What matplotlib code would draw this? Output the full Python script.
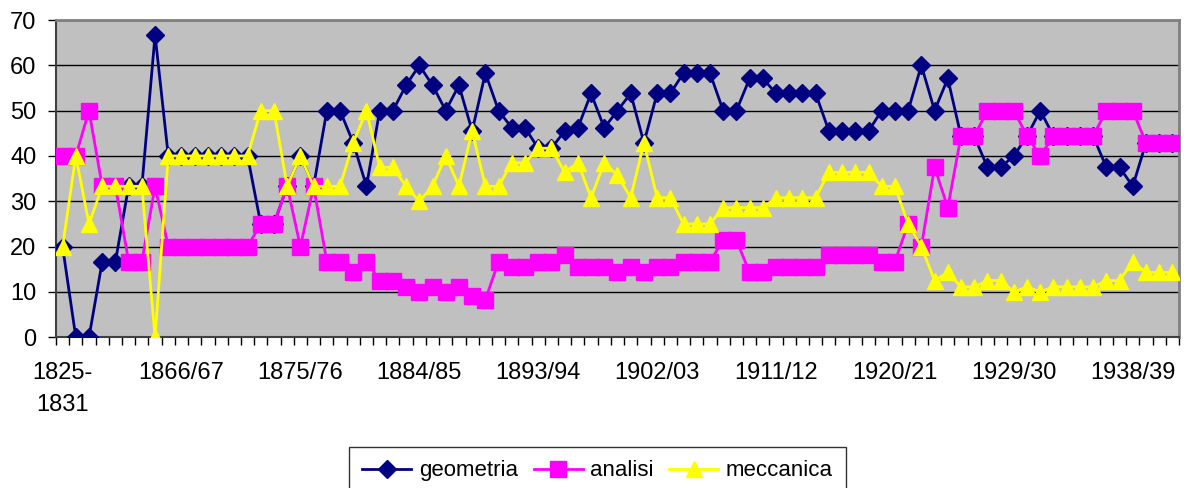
import numpy as np
import matplotlib.pyplot as plt
from matplotlib.ticker import FixedLocator, MultipleLocator

plt.rcParams['font.family'] = ['Liberation Sans', 'DejaVu Sans']

# academic years: first one is a grouped period, the rest are yearly
years = ["1825-1831"] + [f"{1857 + k}/{(58 + k) % 100:02d}" for k in range(1, 85)]

geometria = [20, 0, 0, 16.7, 16.7, 33.3, 33.3, 66.7, 40, 40,
             40, 40, 40, 40, 40, 25, 25, 33.3, 40, 33.3,
             50, 50, 42.9, 33.3, 50, 50, 55.6, 60, 55.6, 50,
             55.6, 45.5, 58.3, 50, 46.2, 46.2, 41.7, 41.7, 45.5, 46.2,
             53.8, 46.2, 50, 53.8, 42.9, 53.8, 53.8, 58.3, 58.3, 58.3,
             50, 50, 57.1, 57.1, 53.8, 53.8, 53.8, 53.8, 45.5, 45.5,
             45.5, 45.5, 50, 50, 50, 60, 50, 57.1, 44.4, 44.4,
             37.5, 37.5, 40, 44.4, 50, 44.4, 44.4, 44.4, 44.4, 37.5,
             37.5, 33.3, 42.9, 42.9, 42.9]
analisi = [40, 40, 50, 33.3, 33.3, 16.7, 16.7, 33.3, 20, 20,
           20, 20, 20, 20, 20, 25, 25, 33.3, 20, 33.3,
           16.7, 16.7, 14.3, 16.7, 12.5, 12.5, 11.1, 10, 11.1, 10,
           11.1, 9.1, 8.3, 16.7, 15.4, 15.4, 16.7, 16.7, 18.2, 15.4,
           15.4, 15.4, 14.3, 15.4, 14.3, 15.4, 15.4, 16.7, 16.7, 16.7,
           21.4, 21.4, 14.3, 14.3, 15.4, 15.4, 15.4, 15.4, 18.2, 18.2,
           18.2, 18.2, 16.7, 16.7, 25, 20, 37.5, 28.6, 44.4, 44.4,
           50, 50, 50, 44.4, 40, 44.4, 44.4, 44.4, 44.4, 50,
           50, 50, 42.9, 42.9, 42.9]
meccanica = [20, 40, 25, 33.3, 33.3, 33.3, 33.3, 0, 40, 40,
             40, 40, 40, 40, 40, 50, 50, 33.3, 40, 33.3,
             33.3, 33.3, 42.9, 50, 37.5, 37.5, 33.3, 30, 33.3, 40,
             33.3, 45.5, 33.3, 33.3, 38.5, 38.5, 41.7, 41.7, 36.4, 38.5,
             30.8, 38.5, 35.7, 30.8, 42.9, 30.8, 30.8, 25, 25, 25,
             28.6, 28.6, 28.6, 28.6, 30.8, 30.8, 30.8, 30.8, 36.4, 36.4,
             36.4, 36.4, 33.3, 33.3, 25, 20, 12.5, 14.3, 11.1, 11.1,
             12.5, 12.5, 10, 11.1, 10, 11.1, 11.1, 11.1, 11.1, 12.5,
             12.5, 16.7, 14.3, 14.3, 14.3]

x = np.arange(len(years))

fig = plt.figure(figsize=(11.86, 4.88), dpi=100)
ax = fig.add_axes([0.0472, 0.309, 0.9469, 0.650])
ax.set_facecolor('#C0C0C0')

ax.plot(x, geometria, color='#000080', lw=2, marker='D', ms=9,
        mec='#000080', mfc='#000080', label='geometria', zorder=3)
ax.plot(x, analisi, color='#FF00FF', lw=2, marker='s', ms=11,
        mec='#FF00FF', mfc='#FF00FF', label='analisi', zorder=4)
ax.plot(x, meccanica, color='#FFFF00', lw=2, marker='^', ms=12,
        mec='#FFFF00', mfc='#FFFF00', label='meccanica', zorder=5)

ax.set_xlim(-0.5, len(years) - 0.5)
ax.set_ylim(0, 70)
ax.yaxis.set_major_locator(MultipleLocator(10))
ax.grid(axis='y', color='black', lw=1, zorder=1)
ax.set_axisbelow(True)

lab_idx = list(range(0, len(years), 9))
ax.xaxis.set_major_locator(FixedLocator(lab_idx))
ax.set_xticklabels([years[i].replace('-', '-\n') for i in lab_idx],
                   linespacing=1.6)
ax.xaxis.set_minor_locator(FixedLocator(np.arange(-0.5, len(years), 1)))
ax.tick_params(axis='x', which='major', length=0, pad=18, labelsize=17)
ax.tick_params(axis='x', which='minor', length=6, width=1, color='black')
ax.tick_params(axis='y', length=6, width=1, labelsize=17, pad=8)
for lbl in ax.get_xticklabels():
    lbl.set_verticalalignment('top')

for side in ['top', 'right']:
    ax.spines[side].set_color('#808080')
    ax.spines[side].set_linewidth(2)
for side in ['left', 'bottom']:
    ax.spines[side].set_color('#404040')
    ax.spines[side].set_linewidth(1.5)

leg = fig.legend(loc='upper center', bbox_to_anchor=(0.504, 0.084), ncol=3,
                 frameon=True, fancybox=False, edgecolor='black', fontsize=16,
                 handlelength=2.2, columnspacing=0.7, handletextpad=0.35,
                 borderpad=0.6, borderaxespad=0)
leg.get_frame().set_linewidth(1)

fig.savefig('out.png', dpi=100)
